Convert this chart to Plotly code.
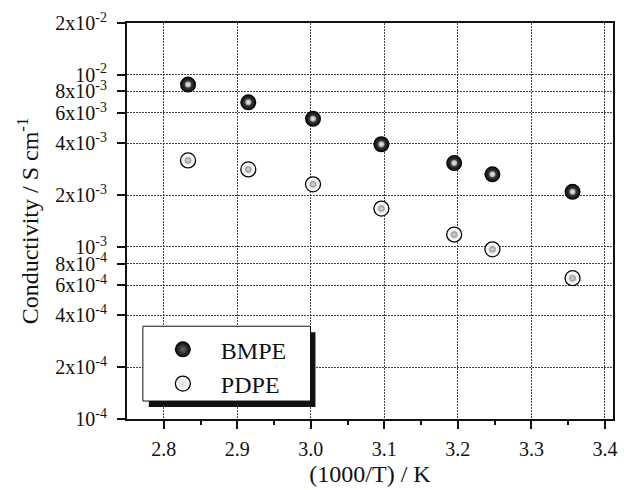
import plotly.graph_objects as go

inv_T = [2.833, 2.915, 3.003, 3.096, 3.195, 3.247, 3.356]
bmpe = [8.77e-3, 6.92e-3, 5.55e-3, 3.95e-3, 3.07e-3, 2.64e-3, 2.09e-3]
pdpe = [3.18e-3, 2.82e-3, 2.31e-3, 1.67e-3, 1.18e-3, 9.68e-4, 6.58e-4]

y_tickvals = [2e-2, 1e-2, 8e-3, 6e-3, 4e-3, 2e-3, 1e-3, 8e-4, 6e-4, 4e-4, 2e-4, 1e-4]
y_ticktext = ["2x10<sup>-2</sup>", "10<sup>-2</sup>", "8x10<sup>-3</sup>", "6x10<sup>-3</sup>",
              "4x10<sup>-3</sup>", "2x10<sup>-3</sup>", "10<sup>-3</sup>", "8x10<sup>-4</sup>",
              "6x10<sup>-4</sup>", "4x10<sup>-4</sup>", "2x10<sup>-4</sup>", "10<sup>-4</sup>"]
x_tickvals = [2.8, 2.9, 3.0, 3.1, 3.2, 3.3, 3.4]
x_ticktext = ["2.8", "2.9", "3.0", "3.1", "3.2", "3.3", "3.4"]
x_minor = [2.85, 2.95, 3.05, 3.15, 3.25, 3.35]

FONT = "Liberation Serif"
L, R, T, B = 127, 617, 23, 420


def px(x):
    return (x - L) / (R - L)


def py(y):
    return (B - y) / (B - T)


fig = go.Figure()
fig.add_trace(go.Scatter(
    x=inv_T, y=bmpe, mode="markers", name="BMPE",
    marker=dict(size=16, color="#000000", line=dict(width=0),
                gradient=dict(type="radial", color="#6a6a6a")),
))
fig.add_trace(go.Scatter(
    x=inv_T, y=bmpe, mode="markers", showlegend=False, hoverinfo="skip",
    marker=dict(size=6, color="#a0a0a0", line=dict(width=0),
                gradient=dict(type="radial", color="#f4f4f4")),
))
fig.add_trace(go.Scatter(
    x=inv_T, y=pdpe, mode="markers", name="PDPE",
    marker=dict(size=15, color="#ffffff", line=dict(width=1.3, color="#000000"),
                gradient=dict(type="radial", color="#d8d8d8")),
))
fig.add_trace(go.Scatter(
    x=inv_T, y=pdpe, mode="markers", showlegend=False, hoverinfo="skip",
    marker=dict(size=6, color="#a0a0a0", line=dict(width=0.5, color="#8a8a8a"),
                gradient=dict(type="radial", color="#dcdcdc")),
))

# legend shadow and box
fig.add_shape(type="rect", xref="paper", yref="paper",
              x0=px(149), x1=px(317), y0=py(408), y1=py(333),
              fillcolor="#111111", line=dict(width=0), layer="above")
fig.add_shape(type="rect", xref="paper", yref="paper",
              x0=px(143), x1=px(312), y0=py(402), y1=py(327),
              fillcolor="#ffffff", line=dict(width=1, color="#111111"), layer="above")

grid = dict(showgrid=True, gridcolor="#444444", griddash="2px,1px", gridwidth=1)
axline = dict(showline=True, linewidth=2, linecolor="#111111", mirror=True, zeroline=False,
              ticks="outside", ticklen=8, tickwidth=1.5, tickcolor="#111111")

fig.update_layout(
    width=624, height=490,
    margin=dict(l=L, r=624 - R, t=T, b=490 - B),
    paper_bgcolor="white", plot_bgcolor="white",
    font=dict(family=FONT, size=20, color="#111111"),
    showlegend=True,
    legend=dict(
        x=px(145), y=py(328), xanchor="left", yanchor="top",
        bgcolor="rgba(0,0,0,0)", borderwidth=0,
        font=dict(family=FONT, size=24, color="#111111"),
        itemwidth=66, tracegroupgap=0,
    ),
    xaxis=dict(
        range=[2.75, 3.411], tickvals=x_tickvals, ticktext=x_ticktext,
        tickfont=dict(family=FONT, size=20), ticklabelstandoff=3,
        minor=dict(tickvals=x_minor, ticks="outside", ticklen=4, tickcolor="#111111", showgrid=False),
        title=dict(text="(1000/T) / K", font=dict(family=FONT, size=24), standoff=6),
        **grid, **axline,
    ),
    yaxis=dict(
        type="log", range=[-4, 1.30103 - 3], tickvals=y_tickvals, ticktext=y_ticktext,
        tickfont=dict(family=FONT, size=20), ticklabelstandoff=6,
        title=dict(text="Conductivity / S cm<sup>-1</sup>", font=dict(family=FONT, size=24), standoff=10),
        **grid, **axline,
    ),
)

fig.write_html("out.html")
